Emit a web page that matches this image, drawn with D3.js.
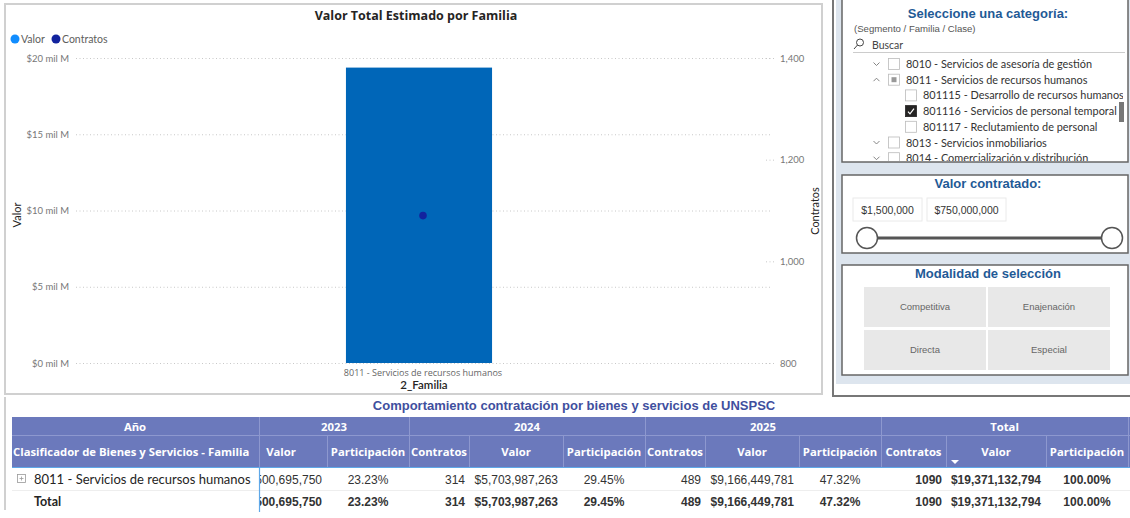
<!DOCTYPE html>
<html>
<head>
<meta charset="utf-8">
<script src="https://cdn.jsdelivr.net/npm/d3@7"></script>
<style>
  body { margin: 0; background: #fff; }
  svg { display: block; }
  .seg { font-family: "Segoe UI", Lato, "Noto Sans", sans-serif; }
  .ope { font-family: "Segoe UI", "Open Sans", "Noto Sans", sans-serif; }
  .ari { font-family: Arial, "Liberation Sans", sans-serif; }
</style>
</head>
<body>
<div id="chart"></div>
<script>
// chart data
const familias = ['8011 - Servicios de recursos humanos'];
const valorTotal = [19371132794];
const contratosTotal = [1090];
const valorTicks = [0, 5e9, 10e9, 15e9, 20e9];
const contratosTicks = [800, 1000, 1200, 1400];

// table data
const anios = ['2023', '2024', '2025'];
const valorAnio = [4500695750, 5703987263, 9166449781];
const contratosAnio = [287, 314, 489];
const participacionAnio = [23.23, 29.45, 47.32];

// slicers
const arbol = [
  { nivel: 0, txt: '8010 - Servicios de asesoría de gestión', icono: 'down', estado: 'off' },
  { nivel: 0, txt: '8011 - Servicios de recursos humanos', icono: 'up', estado: 'part' },
  { nivel: 1, txt: '801115 - Desarrollo de recursos humanos', estado: 'off' },
  { nivel: 1, txt: '801116 - Servicios de personal temporal', estado: 'on' },
  { nivel: 1, txt: '801117 - Reclutamiento de personal', estado: 'off' },
  { nivel: 0, txt: '8013 - Servicios inmobiliarios', icono: 'down', estado: 'off' },
  { nivel: 0, txt: '8014 - Comercialización y distribución', icono: 'down', estado: 'off' },
];
const rangoValor = ['$1,500,000', '$750,000,000'];
const modalidades = ['Competitiva', 'Enajenación', 'Directa', 'Especial'];

const W = 1130, H = 518;
const svg = d3.select('#chart').append('svg')
  .attr('width', W).attr('height', H);

const fmtNum = d3.format(',');
const fmtPct = d => d.toFixed(2) + '%';

// ---------- combo chart ----------
svg.append('rect')
  .attr('x', 5).attr('y', 4).attr('width', 817).attr('height', 390)
  .attr('fill', '#fff').attr('stroke', '#d0d0d0').attr('stroke-width', 2);

const plot = { left: 76, right: 770, top: 58, bottom: 363 };

const x = d3.scaleBand()
  .domain(familias)
  .range([plot.left - 4, plot.right - 4])
  .paddingInner(0.2)
  .paddingOuter(1.5);

const yValor = d3.scaleLinear().domain([0, 20e9]).range([plot.bottom, plot.top]);
const yContratos = d3.scaleLinear().domain([800, 1400]).range([plot.bottom, plot.top]);

svg.append('text')
  .attr('class', 'ope')
  .attr('x', 416).attr('y', 20)
  .attr('text-anchor', 'middle')
  .attr('font-size', 12.5).attr('font-weight', 'bold').attr('fill', '#252423')
  .text('Valor Total Estimado por Familia');

// legend
const leyenda = svg.append('g').attr('class', 'seg').attr('font-size', 10.5).attr('fill', '#605e5c');
[['Valor', '#118DFF', 15], ['Contratos', '#12239E', 56]].forEach(([t, c, lx]) => {
  leyenda.append('circle').attr('cx', lx).attr('cy', 39).attr('r', 4.5).attr('fill', c);
  leyenda.append('text').attr('x', lx + 6).attr('y', 42.5).text(t);
});

// left axis
const axisL = svg.append('g')
  .attr('transform', `translate(${plot.left},0)`)
  .call(d3.axisLeft(yValor)
    .tickValues(valorTicks)
    .tickSize(-(plot.right - plot.left))
    .tickPadding(7)
    .tickFormat(d => `$${d / 1e9} mil M`));
axisL.select('.domain').remove();
axisL.selectAll('line').attr('stroke', '#c8c8c8').attr('stroke-dasharray', '1,2.5');
axisL.selectAll('text').attr('class', 'seg').attr('font-size', 9.5).attr('fill', '#777');

// right axis
const axisR = svg.append('g')
  .attr('transform', `translate(${plot.right},0)`)
  .call(d3.axisRight(yContratos)
    .tickValues(contratosTicks)
    .tickSize(4)
    .tickPadding(6)
    .tickFormat(d3.format(',')));
axisR.select('.domain').remove();
axisR.selectAll('line').attr('x1', -4).attr('stroke', '#c8c8c8').attr('stroke-dasharray', '1,2.5');
axisR.selectAll('text').attr('class', 'seg').attr('font-size', 9.5).attr('fill', '#777');

// axis titles
svg.append('text').attr('class', 'seg')
  .attr('transform', 'translate(21,215) rotate(-90)')
  .attr('text-anchor', 'middle').attr('font-size', 11).attr('fill', '#252423')
  .text('Valor');
svg.append('text').attr('class', 'seg')
  .attr('transform', 'translate(819,211) rotate(-90)')
  .attr('text-anchor', 'middle').attr('font-size', 11).attr('fill', '#252423')
  .text('Contratos');

// bars
svg.selectAll('.bar')
  .data(familias)
  .join('rect')
  .attr('class', 'bar')
  .attr('x', d => x(d))
  .attr('width', x.bandwidth())
  .attr('y', (d, i) => yValor(valorTotal[i]))
  .attr('height', (d, i) => yValor(0) - yValor(valorTotal[i]))
  .attr('fill', '#0066B8');

// contratos points
svg.selectAll('.pt')
  .data(familias)
  .join('circle')
  .attr('class', 'pt')
  .attr('cx', d => x(d) + x.bandwidth() / 2 + 4)
  .attr('cy', (d, i) => yContratos(contratosTotal[i]))
  .attr('r', 3.8)
  .attr('fill', '#12239E');

// category labels
svg.selectAll('.cat')
  .data(familias)
  .join('text')
  .attr('class', 'ope cat')
  .attr('x', d => x(d) + x.bandwidth() / 2 + 4)
  .attr('y', 376)
  .attr('text-anchor', 'middle')
  .attr('font-size', 9).attr('fill', '#666')
  .text(d => d);
svg.append('text').attr('class', 'seg')
  .attr('x', 424).attr('y', 389)
  .attr('text-anchor', 'middle').attr('font-size', 11.5).attr('font-weight', 600).attr('fill', '#252423')
  .text('2_Familia');

// ---------- right panel (slicers) ----------
svg.append('rect').attr('x', 833).attr('y', -2).attr('width', 300).attr('height', 398)
  .attr('fill', '#fff').attr('stroke', '#777').attr('stroke-width', 2);
svg.append('rect').attr('x', 836).attr('y', 0).attr('width', 294).attr('height', 384)
  .attr('fill', '#dde5ee');

const caja = (y0, h) => svg.append('rect')
  .attr('x', 842).attr('y', y0).attr('width', 286).attr('height', h)
  .attr('fill', '#fff').attr('stroke', '#666').attr('stroke-width', 1.5);
const tituloSlicer = (t, y) => svg.append('text').attr('class', 'ari')
  .attr('x', 988).attr('y', y).attr('text-anchor', 'middle')
  .attr('font-size', 13).attr('font-weight', 'bold').attr('fill', '#1f5a96')
  .text(t);

// slicer 1 : category tree
caja(-2, 164);
tituloSlicer('Seleccione una categoría:', 18);
svg.append('text').attr('class', 'ari')
  .attr('x', 854).attr('y', 32).attr('font-size', 9.6).attr('fill', '#555')
  .text('(Segmento / Familia / Clase)');
const lupa = svg.append('g').attr('stroke', '#444').attr('fill', 'none').attr('stroke-width', 1);
lupa.append('circle').attr('cx', 860).attr('cy', 42.5).attr('r', 3.5);
lupa.append('line').attr('x1', 857.5).attr('y1', 45).attr('x2', 854).attr('y2', 49);
svg.append('text').attr('class', 'seg')
  .attr('x', 872).attr('y', 49).attr('font-size', 10.5).attr('fill', '#444').text('Buscar');
svg.append('line').attr('x1', 853).attr('x2', 1125).attr('y1', 52.5).attr('y2', 52.5)
  .attr('stroke', '#ccc');

const arbolG = svg.append('g');
arbolG.append('clipPath').attr('id', 'clipArbol')
  .append('rect').attr('x', 843).attr('y', 54).attr('width', 280).attr('height', 107);
const filas = arbolG.append('g').attr('clip-path', 'url(#clipArbol)')
  .selectAll('g').data(arbol).join('g')
  .attr('transform', (d, i) => `translate(0,${64 + i * 15.7})`);
filas.each(function (d) {
  const g = d3.select(this);
  const bx = d.nivel === 0 ? 888.5 : 905.5;
  if (d.icono) {
    const p = d.icono === 'down' ? 'M873.5,-1.5 L876.5,1.5 L879.5,-1.5' : 'M873.5,1.5 L876.5,-1.5 L879.5,1.5';
    g.append('path').attr('d', p).attr('fill', 'none').attr('stroke', '#777').attr('stroke-width', 0.9);
  }
  g.append('rect').attr('x', bx).attr('y', -5.5).attr('width', 11).attr('height', 11)
    .attr('fill', d.estado === 'on' ? '#252423' : '#fff')
    .attr('stroke', d.estado === 'on' ? '#252423' : '#bbb').attr('stroke-width', 0.8);
  if (d.estado === 'part') {
    g.append('rect').attr('x', bx + 3).attr('y', -2.5).attr('width', 5).attr('height', 5).attr('fill', '#999');
  }
  if (d.estado === 'on') {
    g.append('path').attr('d', `M${bx + 2.5},0.5 L${bx + 4.5},2.8 L${bx + 8.5},-2.5`)
      .attr('fill', 'none').attr('stroke', '#fff').attr('stroke-width', 1.2);
  }
  g.append('text').attr('class', 'seg')
    .attr('x', bx + 17.5).attr('y', 4).attr('font-size', 10.9).attr('fill', '#333')
    .text(d.txt);
});
svg.append('rect').attr('x', 1119).attr('y', 102).attr('width', 5).attr('height', 20).attr('fill', '#777');

// slicer 2 : value range
caja(175, 78);
tituloSlicer('Valor contratado:', 188);
[[853, 69], [927, 79]].forEach(([bx, bw], i) => {
  svg.append('rect').attr('x', bx).attr('y', 198).attr('width', bw).attr('height', 23)
    .attr('fill', '#fff').attr('stroke', '#eaeaea');
  svg.append('text').attr('class', 'ari')
    .attr('x', bx + bw / 2).attr('y', 213.5).attr('text-anchor', 'middle')
    .attr('font-size', 10.5).attr('fill', '#333').text(rangoValor[i]);
});
svg.append('line').attr('x1', 867).attr('x2', 1112).attr('y1', 238).attr('y2', 238)
  .attr('stroke', '#555').attr('stroke-width', 3);
[867, 1112].forEach(cx => svg.append('circle').attr('cx', cx).attr('cy', 238).attr('r', 10.5)
  .attr('fill', '#fff').attr('stroke', '#555').attr('stroke-width', 1.5));

// slicer 3 : modalidad buttons
caja(265, 110);
tituloSlicer('Modalidad de selección', 278);
modalidades.forEach((m, i) => {
  const bx = i % 2 === 0 ? 864 : 988;
  const by = i < 2 ? 287 : 330;
  svg.append('rect').attr('x', bx).attr('y', by).attr('width', 122).attr('height', 40).attr('fill', '#e8e8e8');
  svg.append('text').attr('class', 'ari')
    .attr('x', bx + 61).attr('y', by + 23).attr('text-anchor', 'middle')
    .attr('font-size', 9.5).attr('fill', '#666').text(m);
});

// ---------- matrix table ----------
svg.append('line').attr('x1', 5).attr('x2', 5).attr('y1', 397).attr('y2', 510)
  .attr('stroke', '#d0d0d0').attr('stroke-width', 2);
svg.append('text').attr('class', 'ari')
  .attr('x', 574).attr('y', 410).attr('text-anchor', 'middle')
  .attr('font-size', 13).attr('font-weight', 'bold').attr('fill', '#3f4f9e')
  .text('Comportamiento contratación por bienes y servicios de UNSPSC');

const hdr = '#6b79bc';
const frozen = 259;
const cols = [];
const colW = { c: 60, v: 94, p: 82 };
let cx0 = 173; // 2023 columns are scrolled partly behind the frozen column
anios.concat(['Total']).forEach((a, gi) => {
  const vals = gi < 3
    ? [contratosAnio[gi], valorAnio[gi], participacionAnio[gi]]
    : [d3.sum(contratosAnio), d3.sum(valorAnio), 100];
  const ws = gi < 3 ? [colW.c, colW.v, colW.p] : [65, 100, 82];
  const start = cx0;
  ['Contratos', 'Valor', 'Participación'].forEach((k, j) => {
    cols.push({ grupo: a, gi, k, x0: cx0, x1: cx0 + ws[j], v: vals[j] });
    cx0 += ws[j];
  });
  cols.push({ grupoFin: true, a, start, end: cx0 });
});
// columns fully hidden behind the frozen column are not drawn
const dataCols = cols.filter(c => !c.grupoFin && c.x1 > frozen);
const grupos = cols.filter(c => c.grupoFin);

const tb = svg.append('g');
tb.append('clipPath').attr('id', 'clipTabla')
  .append('rect').attr('x', frozen).attr('y', 400).attr('width', W - frozen).attr('height', 118);

// header backgrounds
tb.append('rect').attr('x', 12).attr('y', 417).attr('width', W - 12).attr('height', 50).attr('fill', hdr);
tb.append('line').attr('x1', 12).attr('x2', W).attr('y1', 435.5).attr('y2', 435.5).attr('stroke', '#8d98cf');
tb.append('line').attr('x1', 12).attr('x2', W).attr('y1', 467.5).attr('y2', 467.5).attr('stroke', '#5fa8e8').attr('stroke-width', 1.2);

const hText = (g, t, x, y, anchor) => g.append('text').attr('class', 'ope')
  .attr('x', x).attr('y', y).attr('text-anchor', anchor || 'middle')
  .attr('font-size', 11.3).attr('font-weight', 'bold').attr('fill', '#fff').text(t);

hText(tb, 'Año', 135, 430.5);
hText(tb, 'Clasificador de Bienes y Servicios - Familia', 13, 455.5, 'start');

const scroll = tb.append('g').attr('clip-path', 'url(#clipTabla)');
grupos.forEach(g => {
  const a = Math.max(g.start, frozen);
  hText(scroll, g.a, (a + g.end) / 2, 430.5);
  scroll.append('line').attr('x1', g.end + 0.5).attr('x2', g.end + 0.5).attr('y1', 417).attr('y2', 467)
    .attr('stroke', '#8d98cf');
});
dataCols.forEach(c => {
  const cxm = c.x0 < frozen ? frozen + 22 : (c.x0 + c.x1) / 2;
  hText(scroll, c.k, cxm, 455.5);
  scroll.append('line').attr('x1', c.x1 + 0.5).attr('x2', c.x1 + 0.5).attr('y1', 436).attr('y2', 467)
    .attr('stroke', '#8d98cf');
});
// sort marker on Total / Valor
const sortCol = dataCols.find(c => c.grupo === 'Total' && c.k === 'Valor');
scroll.append('path')
  .attr('d', `M${sortCol.x0 + 5},460 L${sortCol.x0 + 13},460 L${sortCol.x0 + 9},464 Z`)
  .attr('fill', '#fff');
tb.append('line').attr('x1', frozen + 0.5).attr('x2', frozen + 0.5).attr('y1', 417).attr('y2', 467)
  .attr('stroke', '#8d98cf');

// body rows
const filasTabla = [
  { etiqueta: familias[0], bold: false, y: 479 },
  { etiqueta: 'Total', bold: true, y: 501 },
];
tb.append('line').attr('x1', 12).attr('x2', W).attr('y1', 490.5).attr('y2', 490.5).attr('stroke', '#eee');
filasTabla.forEach(f => {
  if (!f.bold) {
    const ex = tb.append('g').attr('stroke', '#999').attr('fill', 'none').attr('stroke-width', 0.8);
    ex.append('rect').attr('x', 17.5).attr('y', f.y - 4.5).attr('width', 8).attr('height', 8);
    ex.append('path').attr('d', `M19.5,${f.y - 0.5} L23.5,${f.y - 0.5} M21.5,${f.y - 2.5} L21.5,${f.y + 1.5}`);
  }
  tb.append('text').attr('class', 'seg')
    .attr('x', 34).attr('y', f.y + 5)
    .attr('font-size', f.bold ? 12.5 : 13).attr('font-weight', f.bold ? 'bold' : 'normal')
    .attr('fill', '#252423').text(f.etiqueta);
  dataCols.forEach(c => {
    const b = f.bold || c.gi === 3;
    let t, xx, anc;
    if (c.k === 'Contratos') { t = c.gi === 3 ? String(c.v) : fmtNum(c.v); xx = c.x1 - 4; anc = 'end'; }
    else if (c.k === 'Valor') { t = '$' + fmtNum(c.v); xx = c.x1 - 5; anc = 'end'; }
    else { t = fmtPct(c.v); xx = (c.x0 + c.x1) / 2; anc = 'middle'; }
    // the leading part of a cell scrolled behind the frozen column is cut off
    if (c.x0 < frozen) t = t.replace(/^\$\d,/, '');
    scroll.append('text').attr('class', 'ari')
      .attr('x', xx).attr('y', f.y + 4.5).attr('text-anchor', anc)
      .attr('font-size', 12).attr('font-weight', b ? 'bold' : 'normal')
      .attr('fill', '#333').text(t);
  });
});
tb.append('line').attr('x1', frozen + 0.5).attr('x2', frozen + 0.5).attr('y1', 468).attr('y2', 512)
  .attr('stroke', '#5fa8e8').attr('stroke-width', 1.2);
</script>
</body>
</html>
